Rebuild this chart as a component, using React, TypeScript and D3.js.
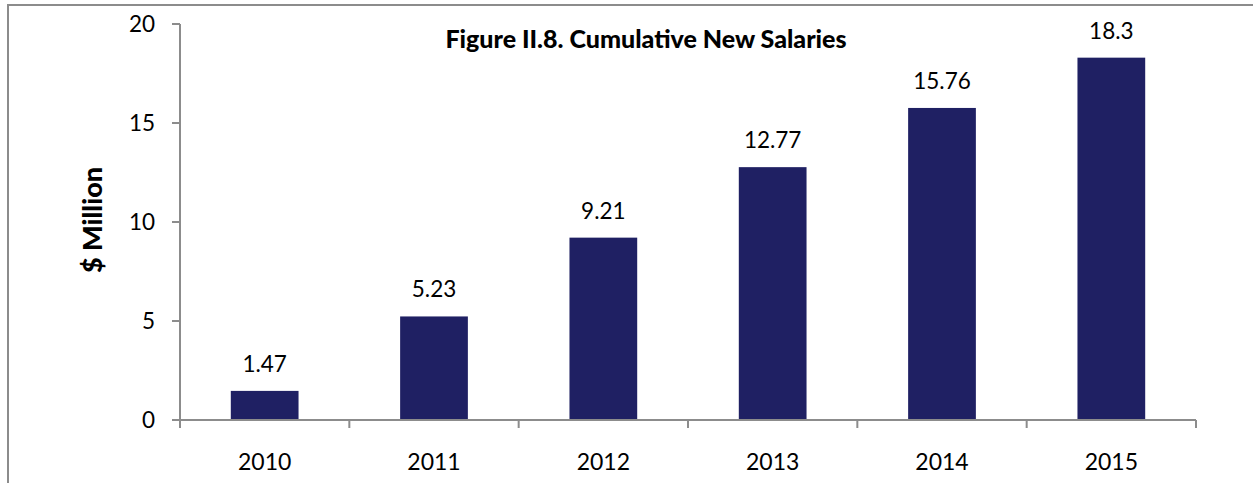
import React, { useEffect, useRef } from "react";
import * as d3 from "d3";

// chart values
const years = ["2010", "2011", "2012", "2013", "2014", "2015"];
const salaries = [1.47, 5.23, 9.21, 12.77, 15.76, 18.3];
const salaryLabels = ["1.47", "5.23", "9.21", "12.77", "15.76", "18.3"];
const yTicks = [0, 5, 10, 15, 20];

const W = 1253;
const H = 483;
const FONT = "Lato, 'Open Sans', sans-serif";

const App = () => {
    const ref = useRef<SVGSVGElement>(null);

    useEffect(() => {
        const svg = d3.select(ref.current);
        svg.selectAll("*").remove();

        // plot area
        const left = 180, right = 1196, top = 24, bottom = 420;
        const axisColor = "#8c8c8c";

        const x = d3.scaleBand().domain(years).range([left, right]).paddingInner(0.6).paddingOuter(0.3);
        const y = d3.scaleLinear().domain([0, 20]).range([bottom, top]);

        // outer frame
        svg.append("rect")
            .attr("x", 8).attr("y", 5)
            .attr("width", W + 20).attr("height", H + 20)
            .attr("fill", "none")
            .attr("stroke", axisColor)
            .attr("stroke-width", 2);

        // bars
        svg.selectAll(".bar")
            .data(salaries)
            .enter()
            .append("rect")
            .attr("x", (d, i) => x(years[i]))
            .attr("y", d => y(d))
            .attr("width", x.bandwidth())
            .attr("height", d => bottom - y(d))
            .attr("fill", "#1f2063");

        // value labels
        svg.selectAll(".val")
            .data(salaries)
            .enter()
            .append("text")
            .attr("x", (d, i) => x(years[i]) + x.bandwidth() / 2)
            .attr("y", d => y(d) - 19)
            .attr("text-anchor", "middle")
            .attr("font-family", FONT)
            .attr("font-size", 22.5)
            .attr("fill", "#000")
            .text((d, i) => salaryLabels[i]);

        // y axis
        svg.append("line")
            .attr("x1", left).attr("x2", left)
            .attr("y1", top).attr("y2", bottom + 8)
            .attr("stroke", axisColor).attr("stroke-width", 2);
        const yt = svg.selectAll(".ytick").data(yTicks).enter().append("g");
        yt.append("line")
            .attr("x1", left - 8).attr("x2", left)
            .attr("y1", d => y(d)).attr("y2", d => y(d))
            .attr("stroke", axisColor).attr("stroke-width", 2);
        yt.append("text")
            .attr("x", left - 25)
            .attr("y", d => y(d))
            .attr("dy", "0.35em")
            .attr("text-anchor", "end")
            .attr("font-family", FONT)
            .attr("font-size", 22.5)
            .text(d => d);

        // x axis
        svg.append("line")
            .attr("x1", left - 8).attr("x2", right)
            .attr("y1", bottom).attr("y2", bottom)
            .attr("stroke", axisColor).attr("stroke-width", 2);
        const bounds = years.map((yr, i) => left + (right - left) / years.length * (i + 1));
        svg.selectAll(".xtick").data(bounds).enter().append("line")
            .attr("x1", d => d).attr("x2", d => d)
            .attr("y1", bottom).attr("y2", bottom + 8)
            .attr("stroke", axisColor).attr("stroke-width", 2);
        svg.selectAll(".xlab").data(years).enter().append("text")
            .attr("x", d => x(d) + x.bandwidth() / 2)
            .attr("y", bottom + 50)
            .attr("text-anchor", "middle")
            .attr("font-family", FONT)
            .attr("font-size", 23)
            .text(d => d);

        // axis title
        svg.append("text")
            .attr("transform", "translate(102,220) rotate(-90)")
            .attr("text-anchor", "middle")
            .attr("font-family", FONT)
            .attr("font-weight", 900)
            .attr("font-size", 27)
            .text("$ Million");

        // chart title
        svg.append("text")
            .attr("x", 646)
            .attr("y", 48)
            .attr("text-anchor", "middle")
            .attr("font-family", FONT)
            .attr("font-weight", 900)
            .attr("font-size", 25)
            .text("Figure II.8. Cumulative New Salaries");
    }, []);

    return (
        <svg
            ref={ref}
            width={W}
            height={H}
            style={{ position: "absolute", left: 0, top: 0, background: "#fff" }}
        ></svg>
    );
};

export default App;
